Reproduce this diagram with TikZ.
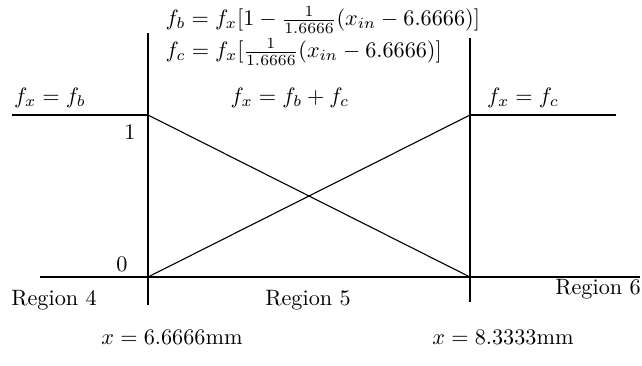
\documentclass[tikz,border=0pt]{standalone}
\usepackage{amsmath,amssymb}
\usepackage{tikz}
\usetikzlibrary{positioning,calc}

\begin{document}
\begin{tikzpicture}[
  x=0.45pt, y=-0.45pt,
  lbl/.style={inner sep=1pt},
  eqn/.style={inner sep=1pt, anchor=west},
  ln/.style={line width=0.5pt},
]
\useasboundingbox (0,0) rectangle (642,365);
% frame points
\coordinate (lt) at (148,33);
\coordinate (lb) at (148,305);
\coordinate (rt) at (470,38);
\coordinate (rb) at (470,302);
\coordinate (one4) at (12,115);
\coordinate (oneL) at (148,115);
\coordinate (oneR) at (470,115);
\coordinate (one6) at (616,115);
\coordinate (zero4) at (40,277);
\coordinate (zeroL) at (148,277);
\coordinate (zeroR) at (470,277);
\coordinate (zero6) at (640,277);
% lines
\draw[ln] (lt) -- (lb);
\draw[ln] (rt) -- (rb);
\draw[ln] (one4) -- (oneL);
\draw[ln] (oneR) -- (one6);
\draw[ln] (zero4) -- (zero6);
\draw[ln] (oneL) -- (zeroR);
\draw[ln] (zeroL) -- (oneR);
% equations
\node[eqn] (fb) at (163,20) {$f_b = f_x[1-\frac{1}{1.6666}(x_{in}-6.6666)]$};
\node[eqn] (fc) at (163,52) {$f_c = f_x[\frac{1}{1.6666}(x_{in}-6.6666)]$};
\node[lbl] (r4eq) at (50,98) {$f_x = f_b$};
\node[lbl] (r5eq) at (290,98) {$f_x = f_b + f_c$};
\node[lbl] (r6eq) at (523,98) {$f_x = f_c$};
\node[lbl] (one) at (130,132) {1};
\node[lbl] (zero) at (122,264) {0};
% regions
\node[lbl] (reg4) at (54,300) {Region 4};
\node[lbl] (reg5) at (308,300) {Region 5};
\node[lbl] (reg6) at (598,289) {Region 6};
\node[lbl] (xl) at (172,337) {$x = 6.6666$mm};
\node[lbl] (xr) at (503,337) {$x = 8.3333$mm};
\end{tikzpicture}
\end{document}
